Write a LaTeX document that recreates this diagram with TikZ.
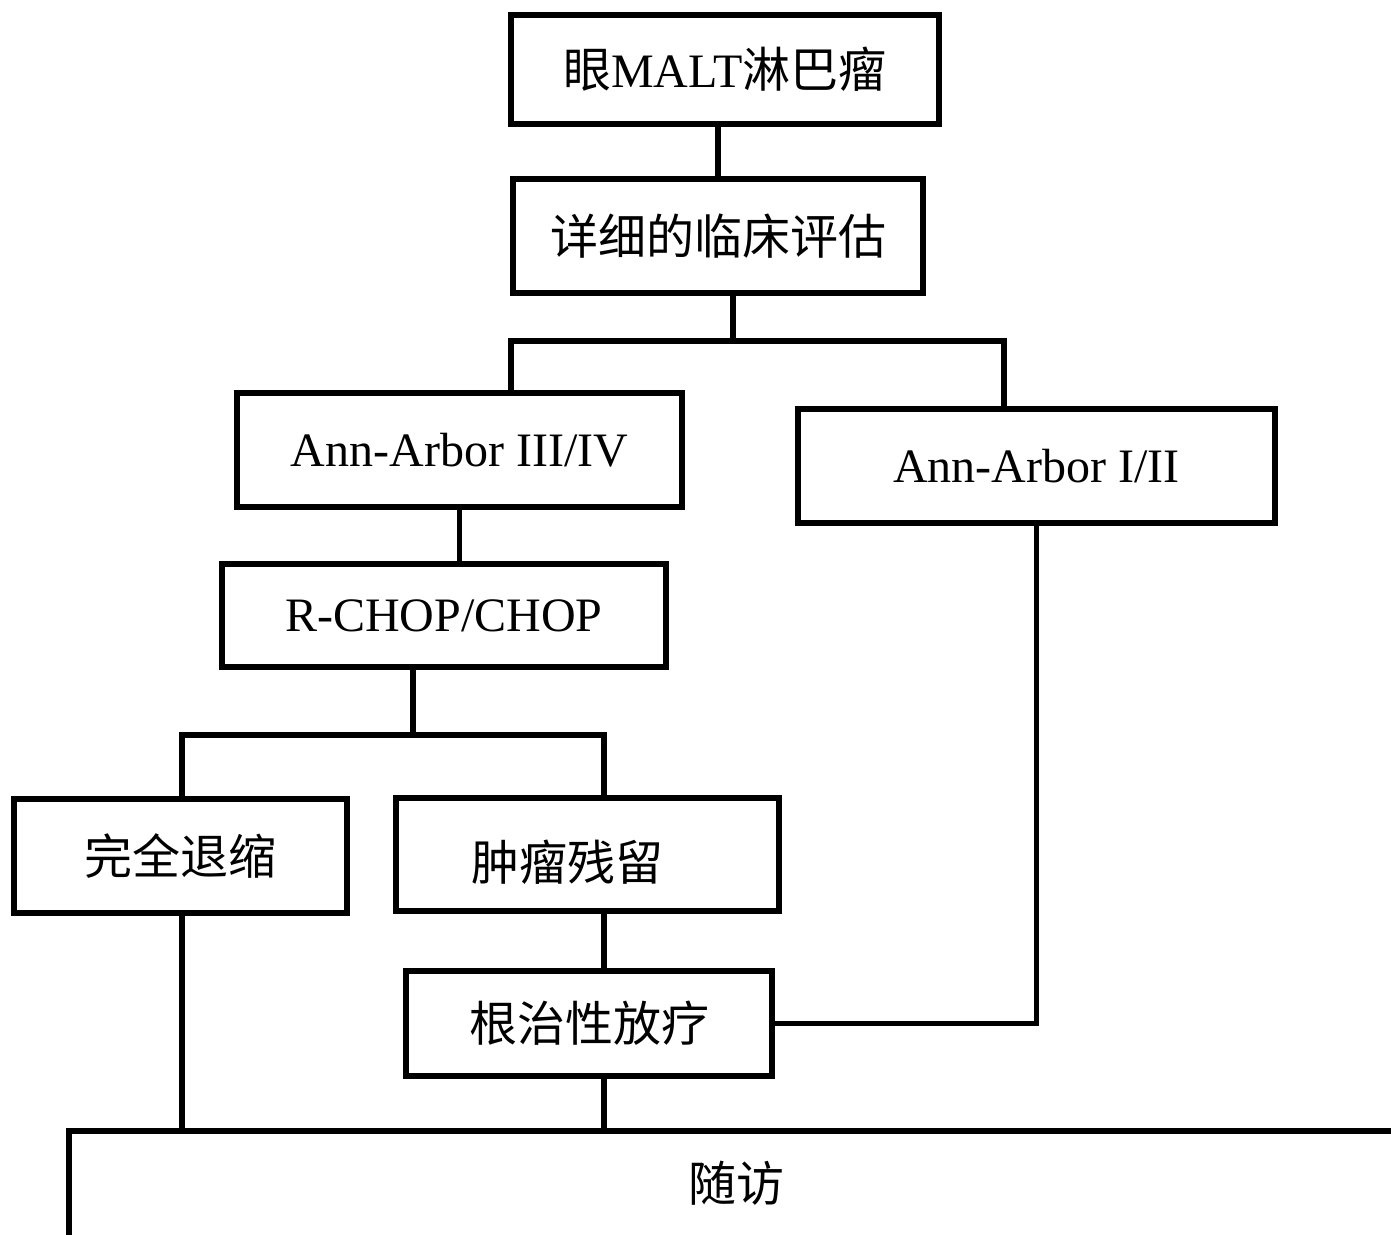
\documentclass[tikz,border=0pt]{standalone}
\usepackage{fontspec}
\setmainfont{Liberation Serif}
\newfontfamily\cjk{Noto Sans CJK SC}
\begin{document}
\begin{tikzpicture}[x=0.5pt,y=-0.5pt,
  line width=2.6pt,
  bx/.style 2 args={draw, rectangle, inner sep=0pt, minimum width={(#1-4)*0.5pt}, minimum height={(#2-4)*0.5pt}, font=\fontsize{24}{28}\selectfont},
  lbl/.style={inner sep=0pt, font=\fontsize{24}{28}\selectfont}]
\useasboundingbox (0,0) rectangle (1391,1235);
\clip (0,0) rectangle (1391,1235);
\node[bx={432}{113}] (b1) at (725,69.5) {{\cjk 眼}MALT{\cjk 淋巴瘤}};
\node[bx={414}{118}] (b2) at (718,236) {\cjk 详细的临床评估};
\node[bx={449}{118}] (b3) at (459.5,450) {Ann-Arbor III/IV};
\node[bx={481}{118}] (b4) at (1036.5,466) {Ann-Arbor I/II};
\node[bx={448}{107}] (b5) at (444,615.5) {R-CHOP/CHOP};
\node[bx={337}{118}] (b6) at (180.5,856) {\cjk 完全退缩};
\node[bx={387}{117}] (b7) at (587.5,854.5) {};
\node[lbl] (t7) at (567,862) {\cjk 肿瘤残留};
\node[bx={370}{109}] (b8) at (589,1023.5) {\cjk 根治性放疗};
\node[bx={1363}{161}] (b9) at (748.5,1209.5) {};
\node[lbl] (t9) at (736,1183) {\cjk 随访};
% connectors
\draw (b1.south -| b2.north) -- (b2.north);
\coordinate (j1) at (733,341);
\coordinate (c1) at (511,341);
\coordinate (c2) at (1004,341);
\draw (b2.south -| j1) -- (j1);
\draw (c1 |- b3.north) -- (c1) -- (c2) -- (c2 |- b4.north);
\draw (b3.south) -- (b3.south |- b5.north);
\coordinate (j2) at (413,735);
\coordinate (c3) at (182,735);
\coordinate (c4) at (604,735);
\draw (b5.south -| j2) -- (j2);
\draw (c3 |- b6.north) -- (c3) -- (c4) -- (c4 |- b7.north);
\draw (b7.south -| c4) -- (b8.north -| c4);
\draw (b8.east) -| (b4.south);
\draw (b6.south -| c3) -- (b9.north -| c3);
\draw (b8.south -| c4) -- (b9.north -| c4);
\end{tikzpicture}
\end{document}
